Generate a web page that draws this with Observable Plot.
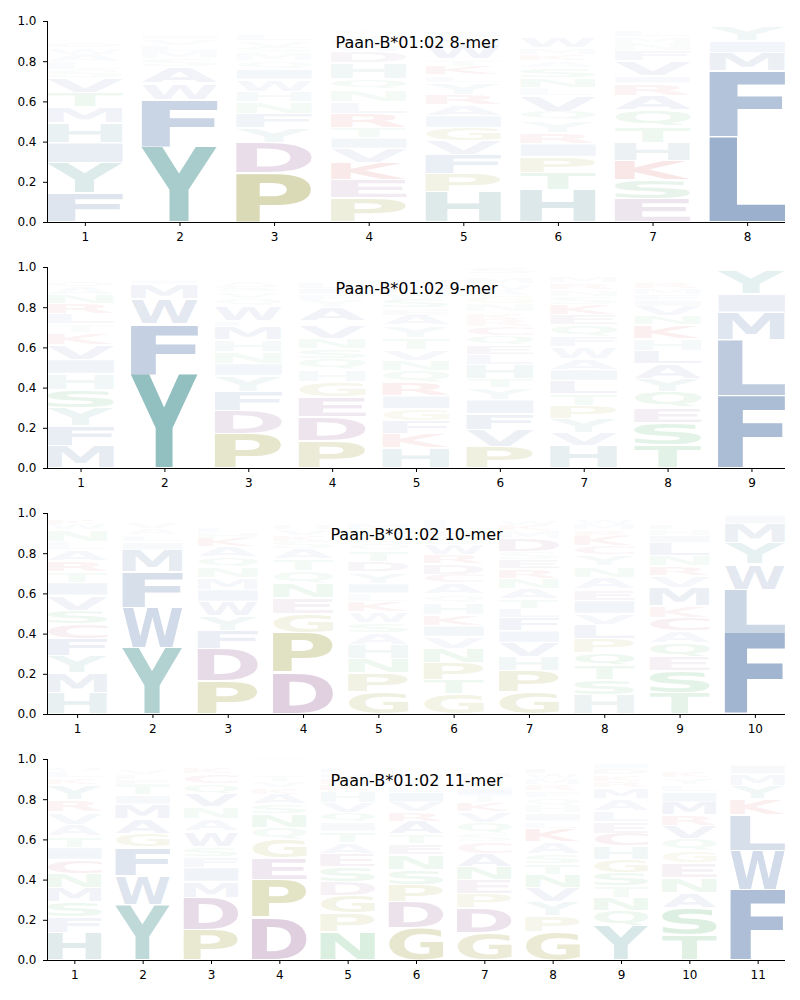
<!DOCTYPE html>
<html>
<head>
<meta charset="utf-8">
<script src="https://cdn.jsdelivr.net/npm/d3@7"></script>
<script src="https://cdn.jsdelivr.net/npm/@observablehq/plot@0.6"></script>
<style>
  body { margin: 0; background: #fff; }
  svg { display: block; }
</style>
</head>
<body>
<div id="chart"></div>
<script>
// ---------- data: each column lists [letter, height] from bottom to top ----------
const titles = ["Paan-B*01:02 8-mer", "Paan-B*01:02 9-mer", "Paan-B*01:02 10-mer", "Paan-B*01:02 11-mer"];
const yTicks = [0, 0.2, 0.4, 0.6, 0.8, 1.0];

const mer8 = [
  [["F",.145],["Y",.15],["I",.10],["H",.10],["M",.08],["T",.07],["V",.07],["S",.04],["L",.04],["A",.04],["W",.03],["Q",.03],["N",.02],["K",.02],["E",.02],["R",.02],["D",.01],["G",.01]],
  [["Y",.375],["F",.235],["W",.08],["A",.08],["S",.04],["M",.04],["L",.03],["V",.03],["I",.02],["H",.02],["N",.02],["K",.01],["T",.01],["R",.01]],
  [["P",.245],["D",.15],["Y",.075],["F",.07],["N",.06],["H",.05],["W",.06],["I",.05],["Q",.04],["M",.04],["S",.03],["V",.03],["L",.03],["A",.02],["G",.02],["E",.02],["K",.01]],
  [["P",.12],["E",.09],["K",.085],["V",.07],["I",.055],["T",.05],["R",.07],["L",.06],["N",.06],["Q",.05],["H",.08],["D",.06],["W",.03],["F",.03],["Y",.025],["G",.025],["A",.02],["M",.015]],
  [["H",.15],["P",.09],["F",.095],["V",.07],["G",.065],["I",.06],["A",.055],["R",.05],["Y",.06],["L",.035],["K",.045],["T",.035],["W",.075],["M",.03],["S",.03],["N",.02],["E",.02],["Q",.015]],
  [["H",.16],["T",.085],["P",.08],["I",.065],["R",.055],["Y",.06],["Q",.045],["V",.08],["L",.04],["N",.045],["S",.05],["A",.035],["K",.035],["M",.03],["W",.055],["F",.02],["E",.02],["G",.02],["D",.02]],
  [["E",.115],["S",.095],["K",.095],["H",.09],["T",.08],["Q",.08],["A",.075],["R",.06],["I",.035],["V",.075],["F",.05],["N",.04],["M",.03],["L",.03],["W",.02],["G",.02],["D",.01]],
  [["L",.425],["F",.325],["M",.09],["I",.06],["Y",.07],["W",.015],["V",.015]]
];

const mer9 = [
  [["M",.11],["F",.10],["Y",.09],["S",.09],["H",.08],["I",.07],["V",.075],["K",.06],["T",.04],["L",.05],["R",.05],["N",.045],["A",.04],["Q",.03],["W",.02],["D",.02],["G",.02],["P",.01]],
  [["Y",.465],["F",.25],["W",.125],["M",.075],["I",.02],["L",.02],["V",.015],["H",.01],["R",.01],["A",.01]],
  [["P",.17],["D",.115],["F",.095],["Y",.08],["I",.06],["N",.06],["H",.06],["M",.065],["L",.025],["W",.075],["Q",.04],["V",.03],["S",.03],["A",.025],["K",.02],["E",.02],["R",.015],["T",.015]],
  [["P",.135],["D",.12],["E",.10],["G",.075],["H",.06],["Q",.055],["S",.05],["N",.05],["V",.065],["R",.02],["A",.065],["Y",.04],["F",.03],["I",.03],["L",.03],["M",.02],["W",.02],["T",.015],["K",.01],["C",.01]],
  [["H",.10],["K",.07],["F",.065],["G",.06],["I",.065],["R",.065],["Q",.06],["N",.05],["V",.055],["T",.06],["Y",.06],["A",.05],["E",.035],["S",.045],["W",.03],["M",.03],["L",.03],["D",.02],["P",.02],["C",.01]],
  [["P",.105],["V",.085],["F",.08],["I",.07],["Y",.06],["T",.045],["H",.07],["L",.05],["E",.045],["Q",.045],["C",.045],["R",.04],["K",.035],["N",.04],["G",.04],["A",.03],["W",.03],["M",.03],["D",.02],["S",.035]],
  [["H",.11],["V",.065],["Y",.07],["P",.065],["T",.06],["L",.065],["I",.055],["A",.055],["W",.06],["F",.05],["Q",.055],["E",.05],["K",.05],["S",.04],["N",.035],["R",.035],["M",.03],["G",.015],["D",.01],["C",.01]],
  [["T",.115],["S",.11],["E",.075],["Q",.08],["Y",.065],["A",.075],["L",.065],["H",.06],["K",.065],["N",.045],["V",.05],["I",.03],["F",.03],["M",.03],["R",.03],["W",.02],["G",.02],["D",.015],["P",.01],["C",.01]],
  [["F",.36],["L",.28],["M",.135],["I",.09],["Y",.115],["V",.01],["W",.01]]
];

const mer10 = [
  [["H",.105],["M",.10],["Y",.085],["F",.085],["C",.075],["S",.065],["V",.075],["I",.065],["T",.05],["R",.055],["A",.055],["L",.04],["N",.06],["W",.03],["K",.025],["Q",.015],["E",.01],["P",.005]],
  [["Y",.33],["W",.20],["F",.175],["M",.11],["I",.04],["L",.035],["A",.03],["V",.03],["H",.02],["S",.015],["R",.01],["K",.005]],
  [["P",.165],["D",.16],["F",.09],["Y",.075],["W",.07],["I",.06],["M",.06],["N",.05],["Q",.05],["A",.05],["K",.045],["H",.03],["L",.025],["V",.02],["S",.02],["T",.015],["G",.015]],
  [["D",.205],["P",.20],["G",.095],["E",.08],["N",.07],["Q",.06],["T",.06],["A",.05],["S",.04],["K",.03],["V",.03],["H",.025],["R",.02],["L",.015],["F",.01],["M",.01]],
  [["G",.11],["P",.095],["N",.07],["H",.07],["A",.06],["S",.05],["W",.055],["K",.05],["L",.04],["I",.05],["Y",.055],["D",.05],["T",.055],["Q",.04],["E",.035],["F",.03],["M",.03],["C",.02],["V",.02],["R",.015]],
  [["G",.10],["T",.07],["P",.085],["N",.07],["V",.06],["I",.055],["K",.055],["H",.06],["Q",.04],["A",.055],["C",.045],["D",.05],["R",.045],["W",.05],["S",.04],["E",.035],["L",.03],["F",.025],["M",.02],["Y",.01]],
  [["G",.11],["P",.105],["H",.07],["V",.07],["I",.06],["F",.065],["L",.045],["T",.045],["A",.055],["N",.05],["R",.045],["E",.045],["S",.04],["D",.065],["M",.04],["K",.03],["W",.025],["Y",.02],["C",.01]],
  [["H",.095],["S",.075],["T",.07],["Q",.065],["P",.07],["L",.07],["V",.055],["I",.065],["E",.055],["A",.06],["N",.055],["Y",.055],["C",.045],["K",.05],["R",.03],["M",.03],["W",.025],["F",.02],["G",.01]],
  [["T",.105],["S",.11],["E",.07],["Q",.07],["A",.06],["C",.065],["K",.06],["M",.09],["V",.06],["R",.045],["N",.05],["L",.065],["I",.04],["H",.03],["F",.025],["W",.02],["D",.015],["G",.01],["Y",.01]],
  [["F",.40],["L",.22],["W",.125],["Y",.105],["M",.095],["I",.045],["V",.01]]
];

const mer11 = [
  [["H",.135],["F",.08],["S",.075],["M",.07],["N",.07],["C",.07],["I",.06],["T",.055],["A",.06],["V",.06],["R",.06],["Y",.075],["K",.035],["L",.03],["Q",.025],["W",.02],["E",.01],["D",.01]],
  [["Y",.275],["W",.145],["F",.14],["G",.065],["A",.075],["M",.075],["I",.045],["T",.05],["E",.03],["L",.025],["V",.025],["H",.02],["S",.015],["K",.01]],
  [["P",.15],["D",.16],["M",.08],["I",.07],["F",.055],["S",.05],["W",.075],["A",.06],["N",.06],["V",.065],["Q",.05],["C",.05],["K",.03],["R",.02],["E",.02],["L",.01]],
  [["D",.21],["P",.19],["E",.105],["G",.095],["Q",.06],["N",.065],["S",.05],["A",.05],["K",.03],["V",.035],["T",.03],["H",.02],["R",.02],["L",.015],["F",.01],["M",.01],["I",.01]],
  [["N",.14],["P",.095],["G",.085],["D",.07],["S",.075],["E",.065],["A",.055],["T",.055],["I",.045],["Q",.045],["V",.05],["H",.06],["K",.035],["R",.03],["M",.025],["F",.025],["W",.015],["Y",.015],["L",.01]],
  [["G",.16],["D",.13],["P",.085],["S",.075],["N",.075],["E",.055],["T",.045],["A",.065],["R",.045],["V",.05],["I",.05],["L",.03],["Y",.03],["M",.03],["H",.02],["Q",.02],["F",.02],["W",.01],["C",.01]],
  [["G",.135],["D",.125],["P",.07],["E",.07],["N",.065],["A",.065],["C",.06],["S",.04],["Q",.055],["V",.05],["K",.045],["T",.04],["I",.035],["L",.03],["R",.025],["H",.025],["M",.015],["Y",.01],["F",.01],["W",.02]],
  [["G",.14],["P",.08],["Y",.07],["V",.07],["N",.065],["T",.055],["S",.05],["A",.06],["K",.065],["L",.035],["I",.04],["H",.04],["Q",.035],["F",.035],["R",.035],["M",.03],["W",.025],["E",.025],["D",.015],["C",.02]],
  [["Y",.17],["Q",.075],["N",.065],["T",.06],["S",.065],["G",.065],["H",.065],["C",.065],["E",.06],["L",.05],["A",.06],["M",.055],["R",.035],["K",.03],["D",.03],["I",.025],["V",.02],["F",.01]],
  [["T",.125],["S",.135],["A",.075],["N",.075],["E",.075],["G",.06],["Q",.06],["V",.065],["R",.05],["M",.065],["I",.05],["L",.035],["Y",.035],["K",.03],["D",.02],["H",.015],["P",.01],["F",.01],["C",.01]],
  [["F",.35],["W",.195],["L",.175],["K",.08],["Y",.065],["M",.06],["I",.045],["R",.02],["V",.01]]
];

const panels = [mer8, mer9, mer10, mer11];

// ---------- letter colours ----------
const blue = [106, 137, 181], teal = [107, 168, 168], hgray = [112, 160, 165],
      olive = [159, 159, 62], mauve = [158, 108, 158], red = [215, 85, 85],
      green = [90, 180, 110], pink = [200, 100, 130];
const letterColor = {
  A: blue, V: blue, I: blue, L: blue, M: blue, F: blue, W: blue,
  Y: teal, H: hgray, P: olive, G: olive, D: mauve, E: mauve,
  K: red, R: red, S: green, T: green, N: green, Q: green, C: pink
};

// ---------- glyph ink metrics ----------
const FONT = "DejaVu Sans";
const cv = document.createElement("canvas").getContext("2d");
cv.font = `bold 100px "${FONT}"`;
const metricCache = {};
function glyph(ch) {
  if (!metricCache[ch]) {
    const m = cv.measureText(ch);
    metricCache[ch] = {
      l: m.actualBoundingBoxLeft, r: m.actualBoundingBoxRight,
      a: m.actualBoundingBoxAscent, d: m.actualBoundingBoxDescent
    };
  }
  return metricCache[ch];
}

const svgNS = "http://www.w3.org/2000/svg";
const HALF = 0.4; // half letter width in position units

function logoMark(rows) {
  return (index, scales) => {
    const x = scales.x, y = scales.y;
    const g = document.createElementNS(svgNS, "g");
    for (const r of rows) {
      const m = glyph(r.letter);
      const pad = Math.min(0.004, r.h * 0.1);
      const X1 = x(r.pos - HALF), X2 = x(r.pos + HALF);
      const Ytop = y(r.y1 - pad), Ybot = y(r.y0 + pad);
      const sx = (X2 - X1) / (m.l + m.r);
      const sy = (Ybot - Ytop) / (m.a + m.d);
      const t = document.createElementNS(svgNS, "text");
      t.setAttribute("transform", `translate(${X1},${Ytop}) scale(${sx},${sy}) translate(${m.l},${m.a})`);
      t.setAttribute("font-family", FONT);
      t.setAttribute("font-weight", "bold");
      t.setAttribute("font-size", 100);
      t.setAttribute("text-anchor", "start");
      const c = letterColor[r.letter] || blue;
      t.setAttribute("fill", `rgb(${c[0]},${c[1]},${c[2]})`);
      t.setAttribute("fill-opacity", Math.max(0.02, Math.min(0.8, 1.6 * r.h - 0.01)).toFixed(3));
      t.textContent = r.letter;
      g.appendChild(t);
    }
    return g;
  };
}

const chart = document.getElementById("chart");
panels.forEach((cols, k) => {
  const n = cols.length;
  const rows = [];
  cols.forEach((col, i) => {
    let cum = 0;
    for (const [letter, h] of col) {
      rows.push({pos: i + 1, letter, h, y0: cum, y1: cum + h});
      cum += h;
    }
  });
  const xDomain = [0.6, n + 0.4];
  const plot = Plot.plot({
    width: 800,
    height: 246,
    marginTop: 21,
    marginBottom: 24,
    marginLeft: 47,
    marginRight: 15,
    style: {fontFamily: FONT, fontSize: "12px", color: "black", background: "white", overflow: "visible"},
    x: {domain: xDomain, ticks: d3.range(1, n + 1), tickFormat: "d", tickSize: 4, tickPadding: 6, label: null},
    y: {domain: [0, 1], ticks: yTicks, tickFormat: ".1f", tickSize: 4, tickPadding: 7, label: null},
    marks: [
      logoMark(rows),
      Plot.ruleY([0], {stroke: "black", strokeWidth: 1}),
      Plot.ruleX([xDomain[0]], {stroke: "black", strokeWidth: 1}),
      Plot.text([titles[k]], {text: d => d, frameAnchor: "top", dy: 15, fontSize: 16, fill: "black"})
    ]
  });
  chart.appendChild(plot);
});
</script>
</body>
</html>
